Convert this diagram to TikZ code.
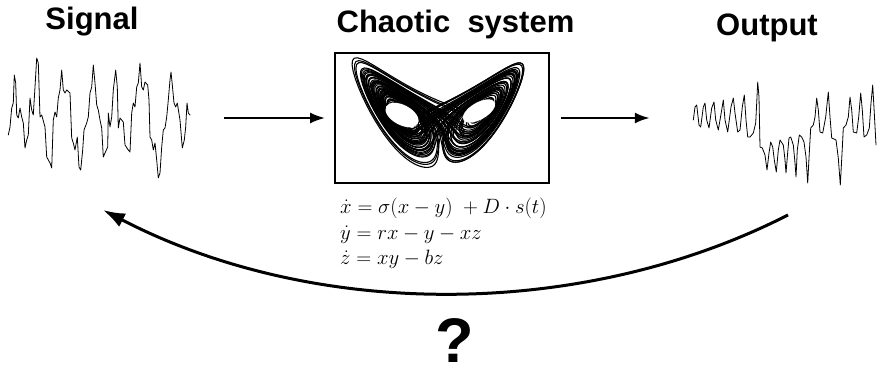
\documentclass[tikz,border=0pt]{standalone}
\usepackage{fontspec}
\newfontfamily\headfont{Liberation Sans}
\usetikzlibrary{arrows.meta}
\newcount\lzi
\begin{document}
\begin{tikzpicture}[x=1pt,y=-1pt,
  title/.style={font=\headfont\bfseries\fontsize{31}{36}\selectfont, inner sep=0pt, anchor=base},
  eqn/.style={font=\fontsize{20.5}{25}\selectfont, inner sep=0pt, anchor=base west},
  qmark/.style={font=\headfont\bfseries\fontsize{63}{70}\selectfont, inner sep=0pt, anchor=base},
  region/.style={draw=none, inner sep=0pt},
  sysbox/.style={draw, line width=1.7pt, inner sep=0pt},
  waveline/.style={line width=0.8pt, line join=round, line cap=round},
  lzline/.style={line width=1.1pt, line join=round, line cap=round},
  hole/.style={fill=white, draw=none},
  flowarrow/.style={line width=2.4pt, -{Latex[length=15pt,width=11pt]}},
  fbarrow/.style={line width=3pt, -{Latex[length=22pt,width=15pt]}}
]
\useasboundingbox (0,0) rectangle (883,370);

% titles
\node[title] (tsig) at (92,29) {Signal};
\node[title] (tsys) at (455.5,32.5) {Chaotic\ \ system};
\node[title] (tout) at (767,35.5) {Output};

% regions of the two signals and the system box
\node[region, minimum width=182pt, minimum height=125pt] (sig) at (99,118) {};
\node[region, minimum width=183pt, minimum height=105pt] (out) at (784.5,133) {};
\node[sysbox, minimum width=214pt, minimum height=130pt] (sys) at (442,118) {};

% input signal
\draw[waveline] plot coordinates {(8.3,135) (10,127) (11.7,108) (13.3,103) (14.3,75) (15.7,83) (16.7,115) (18.3,118) (20,108) (21.7,117) (23.3,123) (25,148) (26.7,140) (28.3,135) (30,98) (31.7,110) (33.3,115) (35,87) (36.7,58) (38.3,63) (40,117) (41.7,115) (45,127) (46.7,157) (50,163) (51.7,168) (53.3,120) (55,112) (56.7,117) (58.3,98) (60,90) (61.7,70) (63.3,90) (65,93) (66.7,90) (70,93) (71.7,138) (73.3,143) (75,150) (77.3,137) (79,167) (80.7,170) (82.7,150) (84,130) (86.7,123) (88.3,117) (90,93) (91.7,87) (93.3,65) (95,83) (96.7,105) (98.3,110) (100,120) (101.7,128) (103.3,157) (105,153) (107.7,147) (108.3,113) (110,127) (111.7,117) (113.3,90) (115.7,70) (117.3,87) (118.3,128) (120,118) (123.3,122) (125,145) (128.3,150) (130,152) (131.7,113) (133.3,103) (135,107) (136.7,87) (138.3,83) (140,63) (141.7,87) (143.3,90) (145,82) (147.7,85) (149,100) (150,137) (151.7,140) (153.3,150) (155,143) (156.7,160) (158.3,178) (160,173) (161.7,147) (163.3,130) (165,128) (166.7,117) (168.3,100) (170,80) (171,72) (172.3,85) (174,103) (175.7,107) (177.3,103) (180,120) (182.3,148) (184.3,140) (185.7,127) (187,103) (188.3,113) (190,115)};

% output signal
\draw[waveline] plot coordinates {(693.3,120) (695,107) (696.7,105) (699,125) (700.7,127) (703.3,107) (705,103) (706.7,120) (709,128) (711.7,108) (714,102) (715.7,120) (718.3,130) (721.7,110) (723.3,100) (725,120) (727.7,132) (731,107) (733.3,98) (735,113) (737.7,132) (740,130) (742.3,107) (744.3,95) (746,120) (747.7,137) (750,137) (753.3,133) (755.7,123) (756.7,103) (757.7,82) (759,97) (760,147) (762.3,148) (765,155) (767,170) (769,153) (770.7,142) (772.7,147) (774.3,160) (776.3,172) (778.3,150) (780,140) (783.3,145) (785,160) (786,173) (787.3,157) (789,138) (790.7,137) (793.3,145) (795,163) (796,177) (797.3,150) (799.3,135) (801.7,137) (804,142) (806,157) (807.7,183) (809,158) (810.7,128) (813.3,125) (815,117) (816.7,98) (818.3,110) (820,132) (822.7,133) (825.7,117) (828.3,92) (830,117) (831.7,138) (834,139) (836,140) (838.3,158) (840.3,185) (842.3,148) (843.3,128) (846,125) (848.3,117) (850,97) (851.7,110) (853.3,132) (856.7,133) (858.7,117) (860.7,93) (862.3,110) (864,137) (866.7,135) (869.3,128) (871,103) (872.7,85) (874,108) (876,145)};

% Lorenz attractor inside the box (slightly rotated view about the z axis)
\begin{scope}
\clip ([xshift=1pt,yshift=1pt]sys.south west) rectangle ([xshift=-1pt,yshift=-1pt]sys.north east);
\begin{scope}[shift={(440,185.5)}, x={(5.02pt,0pt)}, y={(-0.44pt,0pt)}, z={(0pt,2.65pt)}]
\xdef\lzx{1.0}\xdef\lzy{1.0}\xdef\lzz{1.0}
\foreach \c in {1,...,85}{%
  \edef\lzpath{(\lzx,\lzy,\lzz)}%
  \lzi=0
  \loop
    \pgfmathsetmacro\lznx{\lzx+0.1*((\lzy)-(\lzx))}%
    \pgfmathsetmacro\lzny{\lzy+0.01*((\lzx)*(28-(\lzz))-(\lzy))}%
    \pgfmathsetmacro\lznz{\lzz+0.01*((\lzx)*(\lzy)-2.66667*(\lzz))}%
    \let\lzx\lznx \let\lzy\lzny \let\lzz\lznz
    \edef\lzpath{\lzpath--(\lzx,\lzy,\lzz)}%
    \advance\lzi by 1
  \ifnum\lzi<100 \repeat
  \edef\lzcmd{\noexpand\draw[lzline] \lzpath;}%
  \ifnum\c>15 \lzcmd\fi
  \xdef\lzx{\lzx}\xdef\lzy{\lzy}\xdef\lzz{\lzz}%
}
\end{scope}
% the two empty eyes of the attractor
\fill[hole] (402,115) ellipse[x radius=18pt, y radius=10pt, rotate=-28];
\fill[hole] (479,111) ellipse[x radius=18pt, y radius=8.5pt, rotate=30];
\end{scope}

% equations
\node[eqn] (eq1) at (340,213) {$\dot x=\sigma(x-y)\;+D\cdot s(t)$};
\node[eqn] (eq2) at (340,239) {$\dot y=rx-y-xz$};
\node[eqn] (eq3) at (340,264.5) {$\dot z=xy-bz$};

% forward arrows
\draw[flowarrow, shorten <=34pt, shorten >=9pt] (sig.east |- sys.west) -- (sys.west);
\draw[flowarrow, shorten <=11pt, shorten >=43pt] (sys.east) -- (out.west |- sys.east);

% feedback arrow
\coordinate (fbs) at (788,215);
\coordinate (fbe) at (103,210);
\draw[fbarrow] (fbs) .. controls (582,320) and (315,320) .. (fbe);

\node[qmark] (q) at (455,362) {?};
\end{tikzpicture}
\end{document}
